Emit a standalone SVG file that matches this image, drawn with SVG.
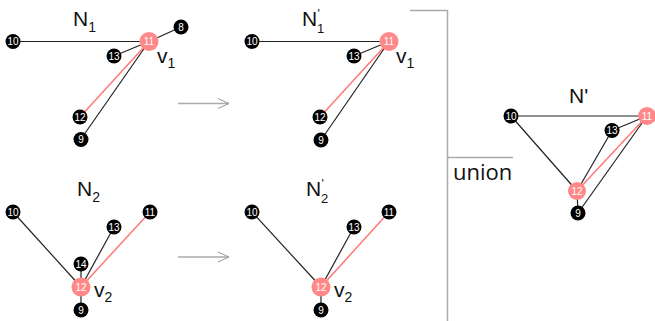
<svg xmlns="http://www.w3.org/2000/svg" width="655" height="321" viewBox="0 0 655 321">
<defs>
<style>
.e{stroke:#222;stroke-width:1.2;fill:none}
.p{stroke:#f77;stroke-width:1.5;fill:none}
.g{stroke:#aaa;stroke-width:1.5;fill:none}
.b{fill:#000}
.r{fill:#f88}
.t{fill:#fff;font-family:"Liberation Sans",Arial,sans-serif;font-size:10px;text-anchor:middle;dominant-baseline:central}
.L{fill:#111;font-family:"Liberation Sans",Arial,sans-serif;font-size:21px}
.s{font-size:14px}
.pr{font-size:12px}
.sb{font-size:13px}
.u{fill:#111;font-family:"Open Sans",sans-serif;font-size:22px}
</style>
<marker id="ah" viewBox="0 0 12 12" refX="11" refY="6" markerWidth="12" markerHeight="12" markerUnits="userSpaceOnUse" orient="auto">
<path d="M0,1 L11,6 L0,11" fill="none" stroke="#999" stroke-width="1"/>
</marker>
</defs>
<g id="connectors">
<line class="e" x1="13" y1="41.5" x2="149" y2="41.5"/>
<line class="e" x1="149" y1="41.5" x2="181" y2="27"/>
<line class="e" x1="149" y1="41.5" x2="114" y2="56"/>
<line class="e" x1="149" y1="41.5" x2="81" y2="139"/>
<line class="p" x1="149" y1="41.5" x2="80" y2="117"/>
<line class="e" x1="252" y1="41.5" x2="389" y2="41.5"/>
<line class="e" x1="389" y1="41.5" x2="354" y2="56"/>
<line class="e" x1="389" y1="41.5" x2="321" y2="140"/>
<line class="p" x1="389" y1="41.5" x2="320" y2="117"/>
<line class="e" x1="13" y1="212" x2="81" y2="287"/>
<line class="e" x1="114" y1="227" x2="81" y2="287"/>
<line class="e" x1="81" y1="264" x2="81" y2="287"/>
<line class="e" x1="81" y1="310" x2="81" y2="287"/>
<line class="p" x1="150" y1="212" x2="81" y2="287"/>
<line class="e" x1="252" y1="212" x2="321" y2="287"/>
<line class="e" x1="354" y1="227" x2="321" y2="287"/>
<line class="e" x1="321" y1="310" x2="321" y2="287"/>
<line class="p" x1="389" y1="212" x2="321" y2="287"/>
<line class="e" x1="511" y1="116" x2="647" y2="116"/>
<line class="e" x1="511" y1="116" x2="577" y2="191"/>
<line class="e" x1="612" y1="130.5" x2="647" y2="116"/>
<line class="e" x1="612" y1="130.5" x2="577" y2="191"/>
<line class="e" x1="578" y1="213" x2="647" y2="116"/>
<line class="e" x1="578" y1="213" x2="577" y2="191"/>
<line class="p" x1="577" y1="191" x2="647" y2="116"/>
<line class="g" x1="178" y1="103.5" x2="229" y2="103.5" stroke-width="1" marker-end="url(#ah)"/>
<line class="g" x1="178" y1="257" x2="229" y2="257" stroke-width="1" marker-end="url(#ah)"/>
<polyline class="g" points="410,10.5 447.5,10.5 447.5,321"/>
<line class="g" x1="447.5" y1="157.5" x2="513" y2="157.5"/>
</g>
<g id="N1">
<g id="n1-10"><circle class="b" cx="13" cy="41.5" r="7.5"/><text class="t" x="13" y="41.5">10</text></g>
<g id="n1-8"><circle class="b" cx="181" cy="27" r="7.5"/><text class="t" x="181" y="27">8</text></g>
<g id="n1-13"><circle class="b" cx="114" cy="56" r="7.5"/><text class="t" x="114" y="56">13</text></g>
<g id="n1-12"><circle class="b" cx="80" cy="117" r="7.5"/><text class="t" x="80" y="117">12</text></g>
<g id="n1-9"><circle class="b" cx="81" cy="139.5" r="7.5"/><text class="t" x="81" y="139.5">9</text></g>
<g id="n1-11"><circle class="r" cx="149" cy="41.5" r="9.5"/><text class="t" x="149" y="41.5">11</text></g>
<text class="L" x="73" y="26">N<tspan class="s" dy="6">1</tspan></text>
<text class="L" x="157" y="63">v<tspan class="s" dy="5">1</tspan></text>
</g>
<g id="N1p">
<g id="n1p-10"><circle class="b" cx="252" cy="41.5" r="7.5"/><text class="t" x="252" y="41.5">10</text></g>
<g id="n1p-13"><circle class="b" cx="354" cy="56" r="7.5"/><text class="t" x="354" y="56">13</text></g>
<g id="n1p-12"><circle class="b" cx="320" cy="117" r="7.5"/><text class="t" x="320" y="117">12</text></g>
<g id="n1p-9"><circle class="b" cx="321" cy="140" r="7.5"/><text class="t" x="321" y="140">9</text></g>
<g id="n1p-11"><circle class="r" cx="389" cy="41.5" r="9.5"/><text class="t" x="389" y="41.5">11</text></g>
<text class="L" x="302" y="26">N<tspan class="pr" x="317.5" y="18">'</tspan><tspan class="sb" x="317" y="32.5">1</tspan></text>
<text class="L" x="396" y="63">v<tspan class="s" dy="5">1</tspan></text>
</g>
<g id="N2">
<g id="n2-10"><circle class="b" cx="13" cy="212" r="7.5"/><text class="t" x="13" y="212">10</text></g>
<g id="n2-11"><circle class="b" cx="150" cy="212" r="7.5"/><text class="t" x="150" y="212">11</text></g>
<g id="n2-13"><circle class="b" cx="114" cy="227" r="7.5"/><text class="t" x="114" y="227">13</text></g>
<g id="n2-14"><circle class="b" cx="81" cy="264" r="7.5"/><text class="t" x="81" y="264">14</text></g>
<g id="n2-9"><circle class="b" cx="81" cy="310" r="7.5"/><text class="t" x="81" y="310">9</text></g>
<g id="n2-12"><circle class="r" cx="81" cy="287" r="9.5"/><text class="t" x="81" y="287">12</text></g>
<text class="L" x="77" y="196">N<tspan class="s" dy="6">2</tspan></text>
<text class="L" x="94" y="297">v<tspan class="s" dy="5">2</tspan></text>
</g>
<g id="N2p">
<g id="n2p-10"><circle class="b" cx="252" cy="212" r="7.5"/><text class="t" x="252" y="212">10</text></g>
<g id="n2p-11"><circle class="b" cx="389" cy="212" r="7.5"/><text class="t" x="389" y="212">11</text></g>
<g id="n2p-13"><circle class="b" cx="354" cy="227" r="7.5"/><text class="t" x="354" y="227">13</text></g>
<g id="n2p-9"><circle class="b" cx="321" cy="310" r="7.5"/><text class="t" x="321" y="310">9</text></g>
<g id="n2p-12"><circle class="r" cx="321" cy="287" r="9.5"/><text class="t" x="321" y="287">12</text></g>
<text class="L" x="306" y="196">N<tspan class="pr" x="321.5" y="188">'</tspan><tspan class="sb" x="321" y="202.5">2</tspan></text>
<text class="L" x="334" y="297">v<tspan class="s" dy="5">2</tspan></text>
</g>
<g id="Nunion">
<g id="nu-10"><circle class="b" cx="511" cy="116" r="7.5"/><text class="t" x="511" y="116">10</text></g>
<g id="nu-13"><circle class="b" cx="612" cy="130.5" r="7.5"/><text class="t" x="612" y="130.5">13</text></g>
<g id="nu-9"><circle class="b" cx="578" cy="213" r="7.5"/><text class="t" x="578" y="213">9</text></g>
<g id="nu-11"><circle class="r" cx="647" cy="116" r="9"/><text class="t" x="647" y="116">11</text></g>
<g id="nu-12"><circle class="r" cx="577" cy="191" r="9"/><text class="t" x="577" y="191">12</text></g>
<text class="L" x="569" y="103">N'</text>
</g>
<text class="u" x="453" y="180">union</text>
</svg>
